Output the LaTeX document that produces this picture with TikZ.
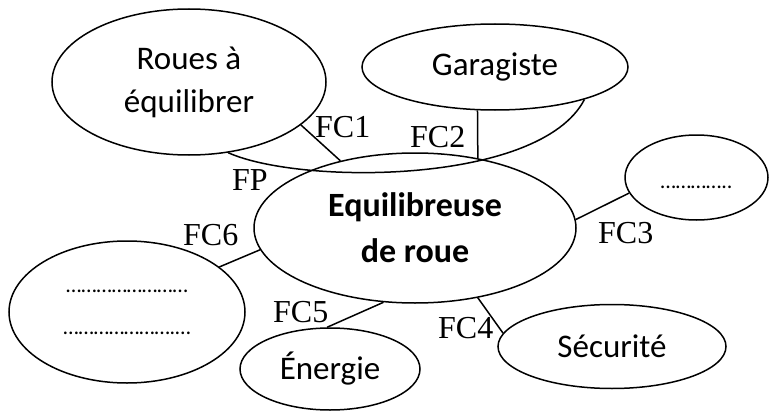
\documentclass[tikz,border=0pt]{standalone}
\usepackage{fontspec}
\setmainfont{Carlito}
\newfontfamily\tnr{Liberation Serif}
\usetikzlibrary{shapes.geometric}
\newcommand\myel{…}
\begin{document}
\begin{tikzpicture}[x=1pt,y=-1pt,
  ell/.style={draw,ellipse,line width=1.5pt,inner sep=0pt,align=center,
    font=\fontsize{33}{43}\selectfont},
  link/.style={line width=1.5pt},
  fc/.style={anchor=base west,inner sep=0pt,font=\tnr\fontsize{32}{36}\selectfont},
  dots/.style={font=\fontsize{22}{42}\selectfont}
]
\useasboundingbox (0,0) rectangle (782,412);
\node[ell,minimum width=274pt,minimum height=146pt] (roues) at (189,82) {Roues à\\équilibrer};
\node[ell,minimum width=266pt,minimum height=86pt] (gar) at (495,67) {Garagiste};
\node[ell,minimum width=322pt,minimum height=150pt,font=\bfseries\fontsize{34}{46}\selectfont] (eq) at (415,228) {Equilibreuse\\de roue};
\node[ell,dots,minimum width=143pt,minimum height=85pt,text height=22pt,text depth=0pt] (autre) at (696.5,177.5) {\myel\myel\myel\myel..};
\node[ell,dots,minimum width=236pt,minimum height=142pt] (milieu) at (127,312) {\myel\myel\myel\myel\myel\myel\myel\myel\\\myel\myel\myel\myel\myel\myel\myel.\myel};
\node[ell,minimum width=180pt,minimum height=82pt] (energ) at (330,369) {Énergie};
\node[ell,minimum width=228pt,minimum height=84pt] (secu) at (612,346.5) {Sécurité};

\draw[link] (roues.-61.2) .. controls (300,185) and (540,185) .. (gar.-20.1);
\draw[link] (roues.-21) -- (eq.138.7);
\draw[link] (gar.-112.7) -- (eq.48.9);
\draw[link] (eq.3.5) -- (autre.-167.3);
\draw[link] (eq.-48) -- (secu.173.6);
\draw[link] (eq.-113.1) -- (energ.94);
\draw[link] (milieu.26.3) -- (eq.-172);

\node[fc] (lfp) at (232,190) {FP};
\node[fc] (lfc1) at (315,137) {FC1};
\node[fc] (lfc2) at (410,147) {FC2};
\node[fc] (lfc3) at (598,243) {FC3};
\node[fc] (lfc4) at (438,338) {FC4};
\node[fc] (lfc5) at (273,322) {FC5};
\node[fc] (lfc6) at (183,245) {FC6};
\end{tikzpicture}
\end{document}
